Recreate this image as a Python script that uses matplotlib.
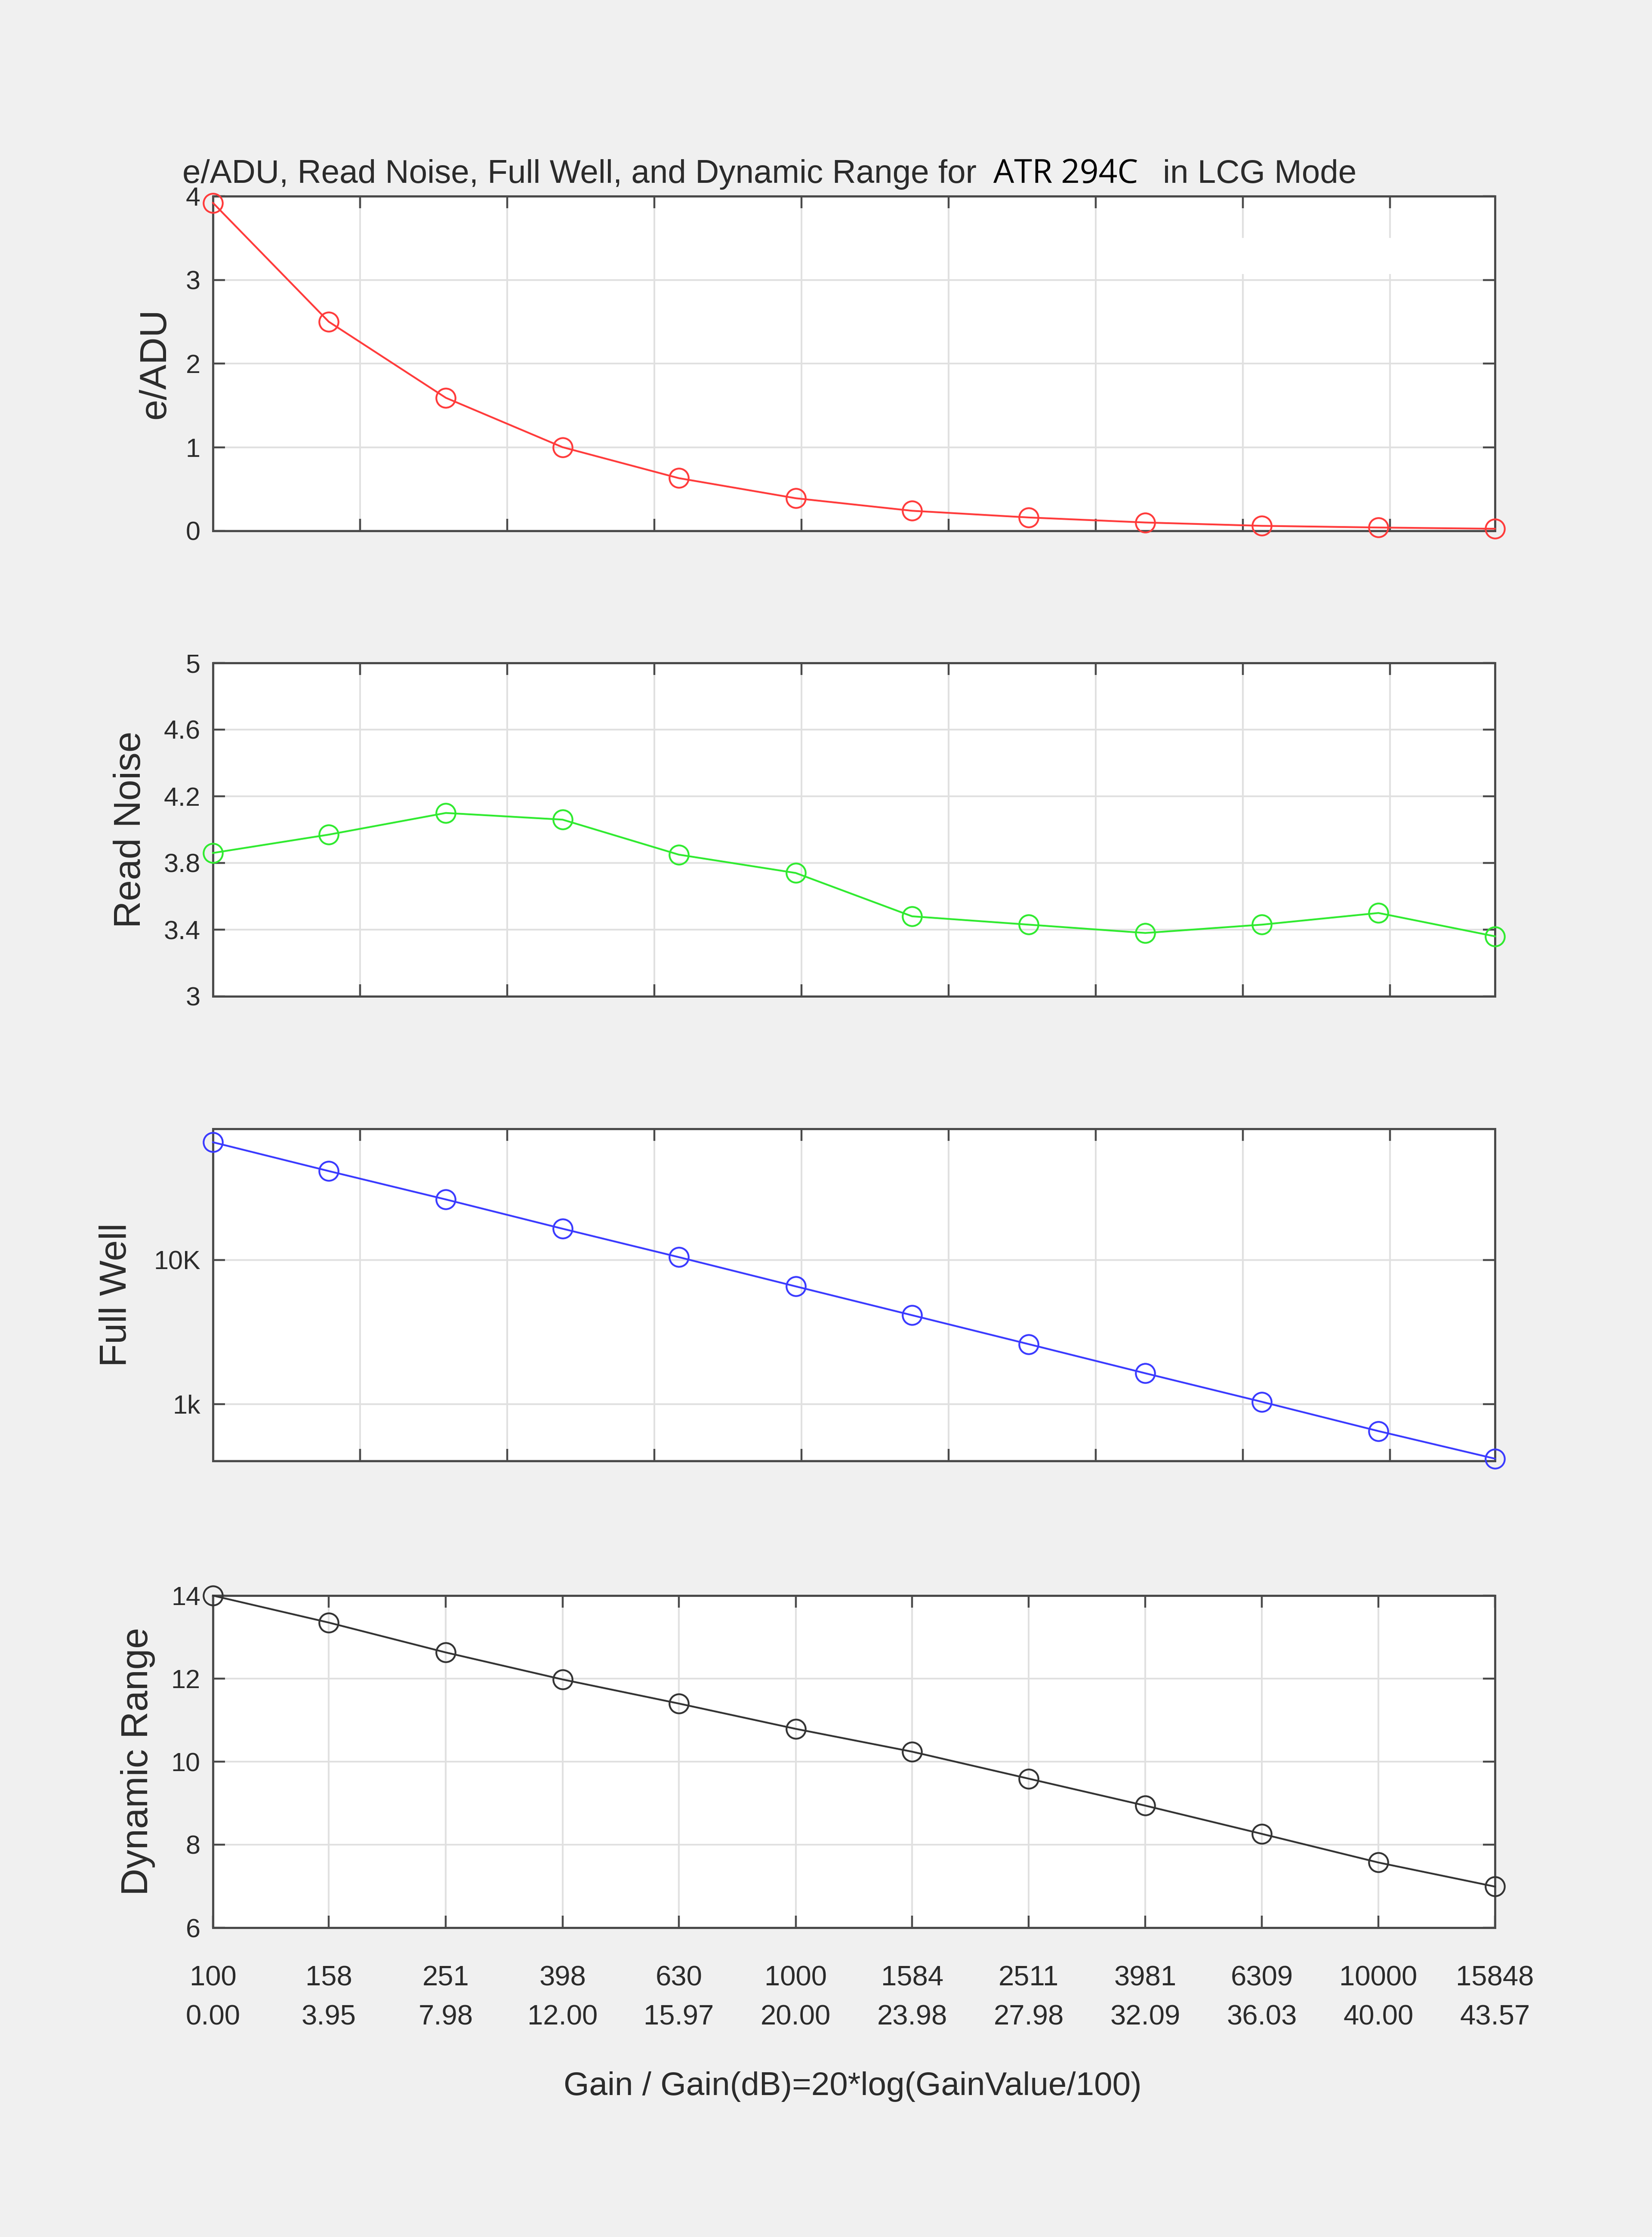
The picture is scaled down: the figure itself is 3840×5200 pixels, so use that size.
import numpy as np
import matplotlib
matplotlib.use("Agg")
import matplotlib.pyplot as plt
from matplotlib.ticker import FixedLocator, NullLocator, NullFormatter, FixedFormatter
from matplotlib.patches import Rectangle

# ---------------- data ----------------
gain = [100, 158, 251, 398, 630, 1000, 1584, 2511, 3981, 6309, 10000, 15848]
gain_db = [0.00, 3.95, 7.98, 12.00, 15.97, 20.00, 23.98, 27.98, 32.09, 36.03, 40.00, 43.57]
e_per_adu = [3.92, 2.50, 1.59, 1.00, 0.63, 0.39, 0.24, 0.16, 0.10, 0.06, 0.04, 0.025]
read_noise = [3.86, 3.97, 4.10, 4.06, 3.85, 3.74, 3.48, 3.43, 3.38, 3.43, 3.50, 3.36]
full_well = [65400, 41300, 26250, 16460, 10460, 6560, 4140, 2610, 1640, 1040, 652, 420]
dynamic_range = [14.00, 13.35, 12.63, 11.98, 11.40, 10.79, 10.24, 9.59, 8.94, 8.26, 7.57, 6.99]

y_labels = ["e/ADU", "Read Noise", "Full Well", "Dynamic Range"]
title_left = "e/ADU, Read Noise, Full Well, and Dynamic Range for"
title_model = "ATR 294C"
title_right = "in LCG Mode"
x_label = "Gain / Gain(dB)=20*log(GainValue/100)"
grid_db_steps = [5, 10, 15, 20, 25, 30, 35, 40]

# ---------------- style ----------------
W, H, DPI = 3840, 5200, 100
BG = "#f0f0f0"
AX_COL = "#4a4a4a"
TXT = "#2b2b2b"
GRID = "#e0e0e0"
FONT = ["Liberation Sans", "DejaVu Sans"]
plt.rcParams["font.family"] = FONT

fig = plt.figure(figsize=(W / DPI, H / DPI), dpi=DPI, facecolor=BG)

left, width = 495 / W, 2980 / W
rects = [(456, 1234), (1541, 2316), (2624, 3396), (3709, 4481)]
label_x = [-0.045, -0.0644, -0.0755, -0.0587]
colors = ["#ff3b3b", "#30ea30", "#3a3aff", "#333333"]
series = [e_per_adu, read_noise, full_well, dynamic_range]

# gridline positions at 5 dB steps of the dB axis span
grid_pos = [gain[0] * (gain[-1] / gain[0]) ** (d / gain_db[-1]) for d in grid_db_steps]

axes = []
for i, (top, bot) in enumerate(rects):
    ax = fig.add_axes([left, 1 - bot / H, width, (bot - top) / H])
    ax.set_facecolor("white")
    ax.set_xscale("log")
    ax.set_xlim(gain[0], gain[-1])
    ax.xaxis.set_minor_locator(NullLocator())
    for sp in ax.spines.values():
        sp.set_color(AX_COL)
        sp.set_linewidth(3.6)
    ax.tick_params(axis="both", which="major", direction="in", top=True, right=True,
                   length=20, width=3.2, color=AX_COL, labelsize=44,
                   labelcolor=TXT, pad=21)
    ax.set_axisbelow(True)
    ax.grid(True, which="major", color=GRID, linewidth=2.8)
    ax.plot(gain, series[i], "-o", color=colors[i], lw=3.0, ms=32, mfc="none",
            mew=3.0, clip_on=False, zorder=5)
    ax.set_ylabel(y_labels[i], fontsize=63, color=TXT, va="center")
    ax.yaxis.set_label_coords(label_x[i], 0.5)
    if i < 3:
        ax.xaxis.set_major_locator(FixedLocator(grid_pos))
    else:
        ax.xaxis.set_major_locator(FixedLocator(gain))
    ax.xaxis.set_major_formatter(NullFormatter())
    axes.append(ax)

# panel 1: e/ADU
axes[0].set_ylim(0, 4)
axes[0].set_yticks([0, 1, 2, 3, 4])
# panel 2: read noise
axes[1].set_ylim(3, 5)
axes[1].set_yticks([3, 3.4, 3.8, 4.2, 4.6, 5])
axes[1].set_yticklabels(["3", "3.4", "3.8", "4.2", "4.6", "5"])
# panel 3: full well (log)
axes[2].set_yscale("log")
axes[2].set_ylim(405, 81000)
axes[2].yaxis.set_major_locator(FixedLocator([1000, 10000]))
axes[2].yaxis.set_major_formatter(FixedFormatter(["1k", "10K"]))
axes[2].yaxis.set_minor_locator(NullLocator())
# panel 4: dynamic range
axes[3].set_ylim(6, 14)
axes[3].set_yticks([6, 8, 10, 12, 14])

# two-row x labels under the bottom panel
ax4 = axes[3]
tr = ax4.get_xaxis_transform()
for g, d in zip(gain, gain_db):
    ax4.text(g, -0.1516, f"{g}", transform=tr, ha="center", va="center",
             fontsize=47, color=TXT)
    ax4.text(g, -0.2707, f"{d:.2f}", transform=tr, ha="center", va="center",
             fontsize=47, color=TXT)

fig.text(1982 / W, 1 - 4851 / H, x_label, ha="center", va="center",
         fontsize=55, color=TXT)

# title in three pieces
ty = 1 - 425 / H
fig.text(424 / W, ty, title_left, ha="left", va="baseline", fontsize=55, color=TXT)
fig.text(2309 / W, ty, title_model, ha="left", va="baseline", fontsize=55,
         color="black", family=["Open Sans", "DejaVu Sans"])
fig.text(2703 / W, ty, title_right, ha="left", va="baseline", fontsize=55, color=TXT)

# white patch over the gridlines in the first panel
fig.add_artist(Rectangle((2865 / W, 1 - 637 / H), 390 / W, 84 / H,
                         transform=fig.transFigure, facecolor="white",
                         edgecolor="none", zorder=3))

fig.savefig("out.png", dpi=DPI, facecolor=BG)
